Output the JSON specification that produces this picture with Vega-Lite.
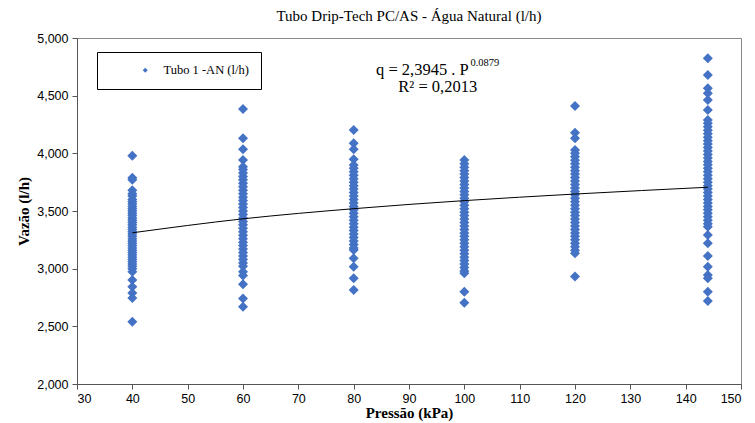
{
  "$schema": "https://vega.github.io/schema/vega-lite/v6.json",
  "width": 664,
  "height": 346,
  "autosize": "none",
  "padding": {"left": 77, "top": 38, "right": 14, "bottom": 39},
  "background": "white",
  "config": {
    "view": {"stroke": "#888888", "strokeWidth": 1},
    "axis": {"grid": false, "labelFont": "Liberation Sans", "labelFontSize": 12.5, "labelColor": "#000000", "titleFont": "Liberation Serif", "titleFontSize": 15, "titleFontWeight": "bold", "titleColor": "#000000", "domainColor": "#555555", "tickColor": "#555555", "tickSize": 5}
  },
  "title": {"text": "Tubo Drip-Tech PC/AS - Água Natural (l/h)", "font": "Liberation Serif", "fontSize": 15, "fontWeight": "normal", "color": "#000000", "offset": 8, "anchor": "middle"},
  "datasets": {
    "pts": [
      {"p":40,"q":3980},{"p":40,"q":3789},{"p":40,"q":3770},{"p":40,"q":3680},{"p":40,"q":3650},{"p":40,"q":3630},{"p":40,"q":3600},{"p":40,"q":3580},{"p":40,"q":3560},{"p":40,"q":3540},{"p":40,"q":3520},{"p":40,"q":3500},{"p":40,"q":3480},{"p":40,"q":3460},{"p":40,"q":3440},{"p":40,"q":3420},{"p":40,"q":3400},{"p":40,"q":3380},{"p":40,"q":3360},{"p":40,"q":3340},{"p":40,"q":3320},{"p":40,"q":3300},{"p":40,"q":3280},{"p":40,"q":3260},{"p":40,"q":3240},{"p":40,"q":3220},{"p":40,"q":3200},{"p":40,"q":3180},{"p":40,"q":3160},{"p":40,"q":3140},{"p":40,"q":3120},{"p":40,"q":3100},{"p":40,"q":3080},{"p":40,"q":3060},{"p":40,"q":3040},{"p":40,"q":3020},{"p":40,"q":3000},{"p":40,"q":2974},{"p":40,"q":2902},{"p":40,"q":2844},{"p":40,"q":2790},{"p":40,"q":2745},{"p":40,"q":2540},
      {"p":60,"q":4384},{"p":60,"q":4130},{"p":60,"q":4035},{"p":60,"q":3942},{"p":60,"q":3884},{"p":60,"q":3860},{"p":60,"q":3830},{"p":60,"q":3800},{"p":60,"q":3770},{"p":60,"q":3740},{"p":60,"q":3710},{"p":60,"q":3680},{"p":60,"q":3650},{"p":60,"q":3620},{"p":60,"q":3590},{"p":60,"q":3560},{"p":60,"q":3530},{"p":60,"q":3500},{"p":60,"q":3470},{"p":60,"q":3440},{"p":60,"q":3410},{"p":60,"q":3380},{"p":60,"q":3350},{"p":60,"q":3320},{"p":60,"q":3290},{"p":60,"q":3260},{"p":60,"q":3230},{"p":60,"q":3200},{"p":60,"q":3170},{"p":60,"q":3140},{"p":60,"q":3110},{"p":60,"q":3080},{"p":60,"q":3050},{"p":60,"q":3020},{"p":60,"q":2974},{"p":60,"q":2940},{"p":60,"q":2864},{"p":60,"q":2742},{"p":60,"q":2670},
      {"p":80,"q":4202},{"p":80,"q":4087},{"p":80,"q":4035},{"p":80,"q":3948},{"p":80,"q":3899},{"p":80,"q":3870},{"p":80,"q":3840},{"p":80,"q":3810},{"p":80,"q":3780},{"p":80,"q":3750},{"p":80,"q":3720},{"p":80,"q":3690},{"p":80,"q":3660},{"p":80,"q":3630},{"p":80,"q":3600},{"p":80,"q":3570},{"p":80,"q":3540},{"p":80,"q":3510},{"p":80,"q":3480},{"p":80,"q":3450},{"p":80,"q":3420},{"p":80,"q":3390},{"p":80,"q":3360},{"p":80,"q":3330},{"p":80,"q":3300},{"p":80,"q":3270},{"p":80,"q":3240},{"p":80,"q":3210},{"p":80,"q":3180},{"p":80,"q":3162},{"p":80,"q":3090},{"p":80,"q":3017},{"p":80,"q":2916},{"p":80,"q":2815},
      {"p":100,"q":3942},{"p":100,"q":3910},{"p":100,"q":3880},{"p":100,"q":3850},{"p":100,"q":3820},{"p":100,"q":3790},{"p":100,"q":3760},{"p":100,"q":3730},{"p":100,"q":3700},{"p":100,"q":3670},{"p":100,"q":3640},{"p":100,"q":3610},{"p":100,"q":3580},{"p":100,"q":3550},{"p":100,"q":3520},{"p":100,"q":3490},{"p":100,"q":3460},{"p":100,"q":3430},{"p":100,"q":3400},{"p":100,"q":3370},{"p":100,"q":3340},{"p":100,"q":3310},{"p":100,"q":3280},{"p":100,"q":3250},{"p":100,"q":3220},{"p":100,"q":3190},{"p":100,"q":3160},{"p":100,"q":3130},{"p":100,"q":3100},{"p":100,"q":3070},{"p":100,"q":3040},{"p":100,"q":3010},{"p":100,"q":2980},{"p":100,"q":2960},{"p":100,"q":2800},{"p":100,"q":2705},
      {"p":120,"q":4410},{"p":120,"q":4179},{"p":120,"q":4130},{"p":120,"q":4029},{"p":120,"q":4000},{"p":120,"q":3970},{"p":120,"q":3940},{"p":120,"q":3910},{"p":120,"q":3880},{"p":120,"q":3850},{"p":120,"q":3820},{"p":120,"q":3790},{"p":120,"q":3760},{"p":120,"q":3730},{"p":120,"q":3700},{"p":120,"q":3670},{"p":120,"q":3640},{"p":120,"q":3610},{"p":120,"q":3580},{"p":120,"q":3550},{"p":120,"q":3520},{"p":120,"q":3490},{"p":120,"q":3460},{"p":120,"q":3430},{"p":120,"q":3400},{"p":120,"q":3370},{"p":120,"q":3340},{"p":120,"q":3310},{"p":120,"q":3280},{"p":120,"q":3250},{"p":120,"q":3220},{"p":120,"q":3190},{"p":120,"q":3160},{"p":120,"q":3133},{"p":120,"q":2931},
      {"p":144,"q":4824},{"p":144,"q":4679},{"p":144,"q":4564},{"p":144,"q":4520},{"p":144,"q":4462},{"p":144,"q":4376},{"p":144,"q":4289},{"p":144,"q":4260},{"p":144,"q":4230},{"p":144,"q":4200},{"p":144,"q":4170},{"p":144,"q":4140},{"p":144,"q":4110},{"p":144,"q":4080},{"p":144,"q":4050},{"p":144,"q":4020},{"p":144,"q":3990},{"p":144,"q":3960},{"p":144,"q":3930},{"p":144,"q":3900},{"p":144,"q":3870},{"p":144,"q":3840},{"p":144,"q":3810},{"p":144,"q":3780},{"p":144,"q":3750},{"p":144,"q":3720},{"p":144,"q":3690},{"p":144,"q":3660},{"p":144,"q":3630},{"p":144,"q":3600},{"p":144,"q":3570},{"p":144,"q":3540},{"p":144,"q":3510},{"p":144,"q":3480},{"p":144,"q":3450},{"p":144,"q":3420},{"p":144,"q":3390},{"p":144,"q":3364},{"p":144,"q":3292},{"p":144,"q":3220},{"p":144,"q":3110},{"p":144,"q":3017},{"p":144,"q":2945},{"p":144,"q":2916},{"p":144,"q":2800},{"p":144,"q":2720}
    ],
    "trend": [
      {"p":40,"q":3311},{"p":60,"q":3432},{"p":80,"q":3520},{"p":100,"q":3590},{"p":120,"q":3647},{"p":144,"q":3706}
    ],
    "notes": [
      {"part":"main","label":"q = 2,3945 . P"},
      {"part":"exp","label":"0.0879"},
      {"part":"r2","label":"R² = 0,2013"}
    ]
  },
  "layer": [
    {
      "data": {"name": "pts"},
      "mark": {"type": "point", "shape": "diamond", "filled": true, "size": 100, "opacity": 1},
      "encoding": {
        "x": {"field": "p", "type": "quantitative", "title": "Pressão (kPa)", "scale": {"domain": [30, 150], "nice": false}, "axis": {"values": [30,40,50,60,70,80,90,100,110,120,130,140,150], "titlePadding": 1, "labelPadding": 3}},
        "y": {"field": "q", "type": "quantitative", "title": "Vazão (l/h)", "scale": {"domain": [2000, 5000], "nice": false}, "axis": {"values": [2000,2500,3000,3500,4000,4500,5000], "format": ",.0f", "titlePadding": 5, "labelPadding": 4}},
        "color": {"datum": "Tubo 1 -AN (l/h)", "type": "nominal", "scale": {"range": ["#4472C4"]}, "legend": {"title": null, "orient": "none", "legendX": 20, "legendY": 14, "strokeColor": "#000000", "fillColor": "white", "padding": 12, "symbolType": "diamond", "symbolSize": 25, "symbolOffset": 30, "labelOffset": 12, "labelFont": "Liberation Serif", "labelFontSize": 12.5, "labelColor": "#000000"}}
      }
    },
    {
      "data": {"name": "trend"},
      "mark": {"type": "line", "color": "#000000", "strokeWidth": 1, "interpolate": "monotone"},
      "encoding": {
        "x": {"field": "p", "type": "quantitative"},
        "y": {"field": "q", "type": "quantitative"}
      }
    },
    {
      "data": {"name": "notes"},
      "transform": [{"filter": "datum.part === 'main'"}],
      "mark": {"type": "text", "align": "right", "baseline": "middle", "font": "Liberation Serif", "fontSize": 16.5, "color": "#000000"},
      "encoding": {"x": {"datum": 100.8}, "y": {"datum": 4722}, "text": {"field": "label"}}
    },
    {
      "data": {"name": "notes"},
      "transform": [{"filter": "datum.part === 'exp'"}],
      "mark": {"type": "text", "align": "left", "baseline": "middle", "font": "Liberation Serif", "fontSize": 10.5, "color": "#000000"},
      "encoding": {"x": {"datum": 101.1}, "y": {"datum": 4785}, "text": {"field": "label"}}
    },
    {
      "data": {"name": "notes"},
      "transform": [{"filter": "datum.part === 'r2'"}],
      "mark": {"type": "text", "align": "center", "baseline": "middle", "font": "Liberation Serif", "fontSize": 16.5, "color": "#000000"},
      "encoding": {"x": {"datum": 95.2}, "y": {"datum": 4575}, "text": {"field": "label"}}
    }
  ]
}
